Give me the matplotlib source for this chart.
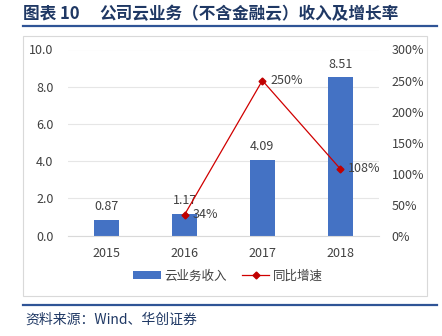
import matplotlib
matplotlib.use("Agg")
import matplotlib.pyplot as plt
from matplotlib.patches import Rectangle
from matplotlib.lines import Line2D

plt.rcParams['font.family'] = ['Noto Sans CJK SC', 'DejaVu Sans']

years = ['2015', '2016', '2017', '2018']
revenue = [0.87, 1.17, 4.09, 8.51]
growth_years = ['2016', '2017', '2018']
growth = [34, 250, 108]

left_ticks = [0, 2, 4, 6, 8, 10]
right_ticks = [0, 50, 100, 150, 200, 250, 300]

bar_color = '#4472C4'
line_color = '#D00000'
text_color = '#404040'
navy = '#1F3864'

fig = plt.figure(figsize=(4.42, 3.36), dpi=100)

# Title and rules
fig.text(23 / 442, 1 - 14 / 336, '图表 10', fontsize=12, fontweight='bold',
         color=navy, va='center', ha='left')
fig.text(99 / 442, 1 - 14 / 336, '公司云业务（不含金融云）收入及增长率',
         fontsize=12, fontweight='bold', color=navy, va='center', ha='left')
fig.add_artist(Line2D([23 / 442, 437 / 442], [1 - 25.5 / 336] * 2, color='#2F5496', lw=1.6))
fig.add_artist(Line2D([23 / 442, 437 / 442], [1 - 305 / 336] * 2, color='#2F5496', lw=1.6))
fig.add_artist(Rectangle((23 / 442, 1 - 296 / 336), (427 - 23) / 442, (296 - 36) / 336,
                         fill=False, edgecolor='#D9D9D9', lw=0.8))
fig.text(25 / 442, 1 - 320 / 336, '资料来源：Wind、华创证券', fontsize=10,
         style='italic', color=navy, va='center', ha='left')

ax = fig.add_axes([68 / 442, 100.3 / 336, 311 / 442, 186.2 / 336])
x = list(range(len(years)))
bars = ax.bar(x, revenue, width=0.32, color=bar_color, zorder=2, label='云业务收入')
ax.set_xlim(-0.5, 3.5)
ax.set_ylim(0, 10)
ax.set_yticks(left_ticks)
ax.set_yticklabels([f'{v:.1f}' for v in left_ticks])
ax.set_xticks(x)
ax.set_xticklabels(years)
ax.grid(axis='y', color='#E6E6E6', lw=0.8, zorder=0)
for s in ax.spines.values():
    s.set_visible(False)
ax.spines['bottom'].set_visible(True)
ax.spines['bottom'].set_color('#D9D9D9')
ax.tick_params(axis='both', length=0, labelsize=9, colors=text_color)
ax.tick_params(axis='y', pad=10.5)
ax.tick_params(axis='x', pad=8)
for xi, v in zip(x, revenue):
    ax.text(xi, v + 0.35, f'{v:.2f}', ha='center', va='bottom', fontsize=9, color=text_color)

ax2 = ax.twinx()
ax2.set_ylim(0, 300)
ax2.set_yticks(right_ticks)
ax2.set_yticklabels([f'{v}%' for v in right_ticks])
for s in ax2.spines.values():
    s.set_visible(False)
ax2.tick_params(axis='y', length=0, labelsize=9, colors=text_color, pad=9)
gx = [years.index(y) for y in growth_years]
ax2.plot(gx, growth, color=line_color, lw=0.9, marker='D', markersize=3.5, zorder=3,
         markerfacecolor='#C00000', markeredgecolor='#C00000', label='同比增速')
for xi, v in zip(gx, growth):
    ax2.text(xi + 0.1, v, f'{v}%', ha='left', va='center', fontsize=9, color=text_color)

handles = [bars, Line2D([], [], color=line_color, lw=0.9, marker='D', markersize=3.5,
                        markerfacecolor='#C00000', markeredgecolor='#C00000')]
fig.legend(handles, ['云业务收入', '同比增速'], loc='center', bbox_to_anchor=(228 / 442, 1 - 276 / 336),
           ncol=2, frameon=False, fontsize=9, handlelength=2.2, handleheight=0.6,
           columnspacing=1.2, handletextpad=0.3, labelcolor=text_color)

fig.savefig('out.png', dpi=100)
